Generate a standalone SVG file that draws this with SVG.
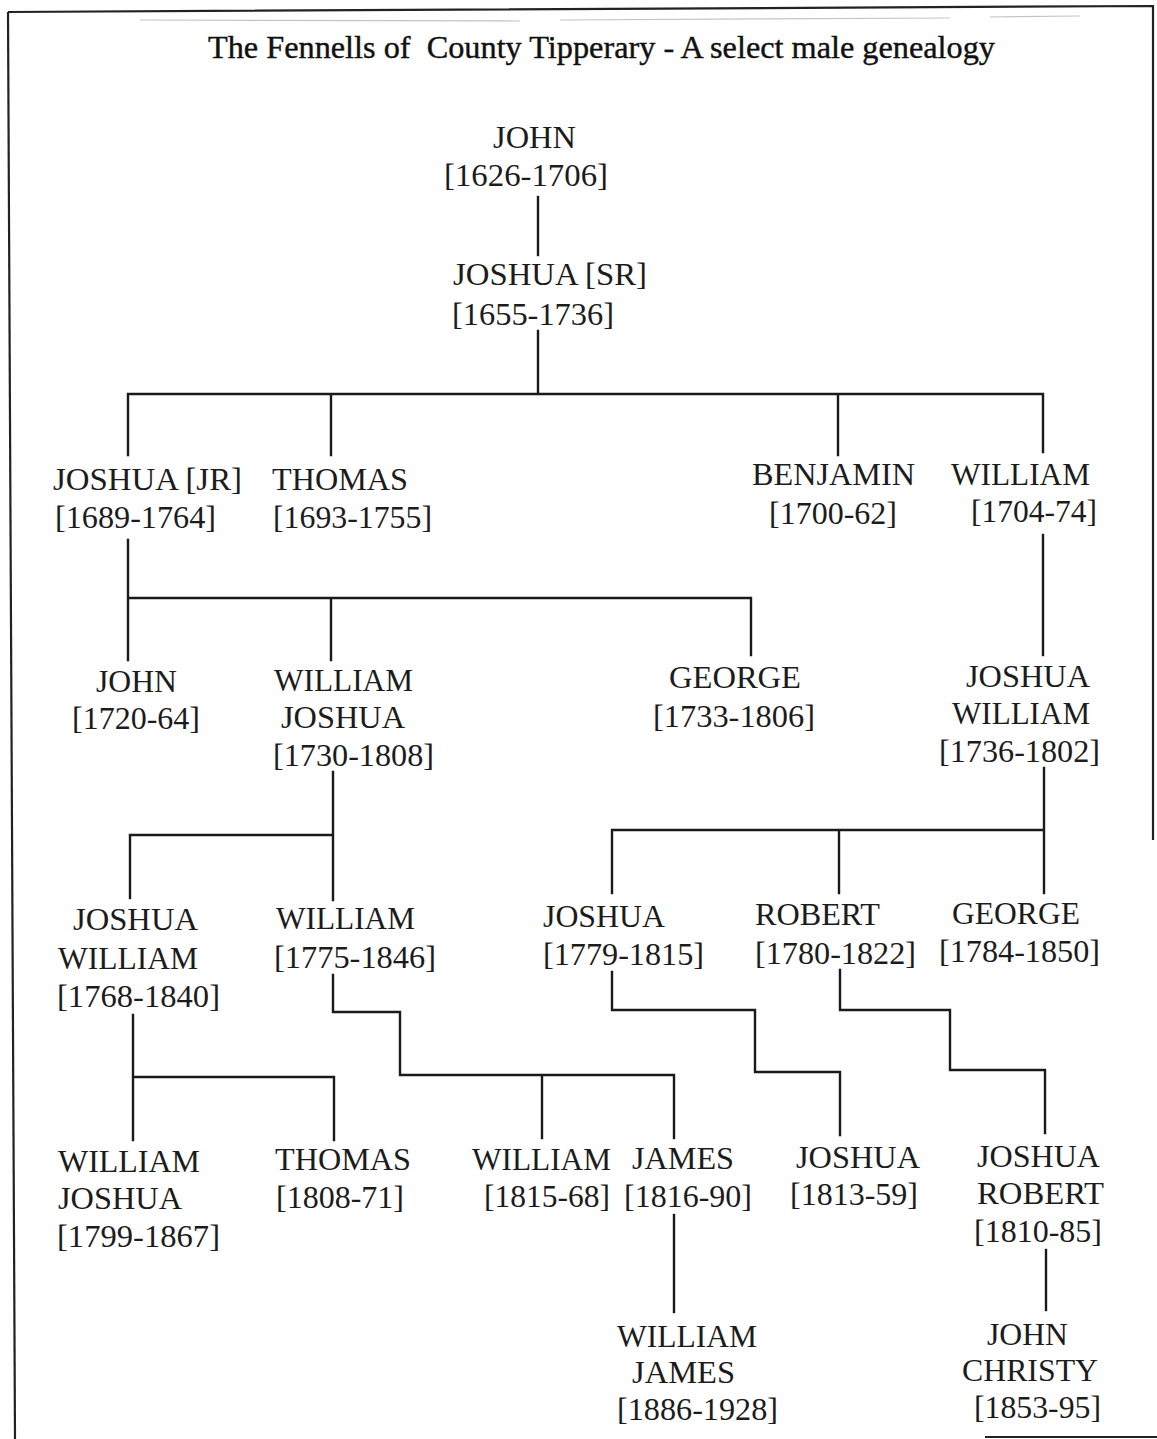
<svg xmlns="http://www.w3.org/2000/svg" width="1157" height="1439" viewBox="0 0 1157 1439">
<style>
text{font-family:"Liberation Serif","Times New Roman",serif;font-size:32px;fill:#1c1c1c}
.title{font-size:31px;fill:#111;stroke:#111;stroke-width:0.4}
.c{fill:none;stroke:#1a1a1a;stroke-width:2.4;stroke-linecap:square}
.frame{fill:none;stroke:#222;stroke-width:2.2}
.faint{fill:none;stroke:#c4c4c4;stroke-width:1.2}
</style>
<rect width="1157" height="1439" fill="#ffffff"/>
<g id="frame">
<path class="frame" d="M8,12 L1153,6 L1153,840"/>
<path class="frame" d="M8,12 L15,1439"/>
<path class="frame" d="M985,1437 L1157,1437"/>
<path class="faint" d="M140,20 L520,21 M560,20 L950,18 M990,17 L1080,16"/>
</g>
<g id="title"><text class="title" x="208" y="58" textLength="787" lengthAdjust="spacingAndGlyphs" xml:space="preserve">The Fennells of  County Tipperary - A select male genealogy</text></g>
<g id="connectors">
<path class="c" d="M538,197 V255"/>
<path class="c" d="M538,331 V394 M128,394 H1043 M128,394 V455 M331,394 V455 M838,394 V455 M1043,394 V452"/>
<path class="c" d="M128,540 V660 M128,598 H751 M331,598 V660 M751,598 V655"/>
<path class="c" d="M1043,535 V655"/>
<path class="c" d="M333,772 V900 M130,835 H333 M130,835 V898"/>
<path class="c" d="M1044,768 V893 M612,830 H1044 M612,830 V893 M839,830 V893"/>
<path class="c" d="M133,1015 V1140 M133,1077 H334 V1140"/>
<path class="c" d="M333,975 V1012 H400 V1075 H674 V1138 M542,1075 V1138"/>
<path class="c" d="M612,972 V1010 H755 V1072 H840 V1135"/>
<path class="c" d="M840,970 V1010 H950 V1070 H1045 V1133"/>
<path class="c" d="M674,1215 V1312"/>
<path class="c" d="M1046,1250 V1310"/>
</g>
<g id="n-john-1626"><text x="493" y="148" textLength="83" lengthAdjust="spacingAndGlyphs">JOHN</text><text x="444" y="186" textLength="164" lengthAdjust="spacingAndGlyphs">[1626-1706]</text></g>
<g id="n-joshua-sr"><text x="453" y="285" textLength="194" lengthAdjust="spacingAndGlyphs">JOSHUA [SR]</text><text x="452" y="325" textLength="162" lengthAdjust="spacingAndGlyphs">[1655-1736]</text></g>
<g id="n-joshua-jr"><text x="53" y="490" textLength="189" lengthAdjust="spacingAndGlyphs">JOSHUA [JR]</text><text x="55" y="528" textLength="161" lengthAdjust="spacingAndGlyphs">[1689-1764]</text></g>
<g id="n-thomas-1693"><text x="272" y="490" textLength="136" lengthAdjust="spacingAndGlyphs">THOMAS</text><text x="273" y="528" textLength="159" lengthAdjust="spacingAndGlyphs">[1693-1755]</text></g>
<g id="n-benjamin"><text x="752" y="485" textLength="163" lengthAdjust="spacingAndGlyphs">BENJAMIN</text><text x="769" y="524" textLength="128" lengthAdjust="spacingAndGlyphs">[1700-62]</text></g>
<g id="n-william-1704"><text x="951" y="485" textLength="139" lengthAdjust="spacingAndGlyphs">WILLIAM</text><text x="971" y="522" textLength="126" lengthAdjust="spacingAndGlyphs">[1704-74]</text></g>
<g id="n-john-1720"><text x="96" y="692" textLength="81" lengthAdjust="spacingAndGlyphs">JOHN</text><text x="72" y="729" textLength="128" lengthAdjust="spacingAndGlyphs">[1720-64]</text></g>
<g id="n-william-joshua-1730"><text x="274" y="691" textLength="139" lengthAdjust="spacingAndGlyphs">WILLIAM</text><text x="281" y="728" textLength="124" lengthAdjust="spacingAndGlyphs">JOSHUA</text><text x="273" y="766" textLength="161" lengthAdjust="spacingAndGlyphs">[1730-1808]</text></g>
<g id="n-george-1733"><text x="669" y="688" textLength="132" lengthAdjust="spacingAndGlyphs">GEORGE</text><text x="653" y="727" textLength="162" lengthAdjust="spacingAndGlyphs">[1733-1806]</text></g>
<g id="n-joshua-william-1736"><text x="966" y="687" textLength="124" lengthAdjust="spacingAndGlyphs">JOSHUA</text><text x="952" y="724" textLength="138" lengthAdjust="spacingAndGlyphs">WILLIAM</text><text x="939" y="762" textLength="161" lengthAdjust="spacingAndGlyphs">[1736-1802]</text></g>
<g id="n-joshua-william-1768"><text x="73" y="930" textLength="125" lengthAdjust="spacingAndGlyphs">JOSHUA</text><text x="58" y="969" textLength="140" lengthAdjust="spacingAndGlyphs">WILLIAM</text><text x="57" y="1007" textLength="163" lengthAdjust="spacingAndGlyphs">[1768-1840]</text></g>
<g id="n-william-1775"><text x="276" y="929" textLength="139" lengthAdjust="spacingAndGlyphs">WILLIAM</text><text x="274" y="968" textLength="162" lengthAdjust="spacingAndGlyphs">[1775-1846]</text></g>
<g id="n-joshua-1779"><text x="543" y="927" textLength="122" lengthAdjust="spacingAndGlyphs">JOSHUA</text><text x="543" y="965" textLength="161" lengthAdjust="spacingAndGlyphs">[1779-1815]</text></g>
<g id="n-robert-1780"><text x="755" y="925" textLength="125" lengthAdjust="spacingAndGlyphs">ROBERT</text><text x="755" y="964" textLength="161" lengthAdjust="spacingAndGlyphs">[1780-1822]</text></g>
<g id="n-george-1784"><text x="952" y="924" textLength="128" lengthAdjust="spacingAndGlyphs">GEORGE</text><text x="939" y="962" textLength="161" lengthAdjust="spacingAndGlyphs">[1784-1850]</text></g>
<g id="n-william-joshua-1799"><text x="58" y="1172" textLength="142" lengthAdjust="spacingAndGlyphs">WILLIAM</text><text x="58" y="1209" textLength="124" lengthAdjust="spacingAndGlyphs">JOSHUA</text><text x="57" y="1247" textLength="163" lengthAdjust="spacingAndGlyphs">[1799-1867]</text></g>
<g id="n-thomas-1808"><text x="275" y="1170" textLength="136" lengthAdjust="spacingAndGlyphs">THOMAS</text><text x="276" y="1208" textLength="128" lengthAdjust="spacingAndGlyphs">[1808-71]</text></g>
<g id="n-william-1815"><text x="472" y="1170" textLength="139" lengthAdjust="spacingAndGlyphs">WILLIAM</text><text x="484" y="1207" textLength="126" lengthAdjust="spacingAndGlyphs">[1815-68]</text></g>
<g id="n-james-1816"><text x="632" y="1169" textLength="102" lengthAdjust="spacingAndGlyphs">JAMES</text><text x="624" y="1207" textLength="128" lengthAdjust="spacingAndGlyphs">[1816-90]</text></g>
<g id="n-joshua-1813"><text x="796" y="1168" textLength="124" lengthAdjust="spacingAndGlyphs">JOSHUA</text><text x="790" y="1205" textLength="128" lengthAdjust="spacingAndGlyphs">[1813-59]</text></g>
<g id="n-joshua-robert-1810"><text x="977" y="1167" textLength="123" lengthAdjust="spacingAndGlyphs">JOSHUA</text><text x="977" y="1204" textLength="127" lengthAdjust="spacingAndGlyphs">ROBERT</text><text x="974" y="1242" textLength="128" lengthAdjust="spacingAndGlyphs">[1810-85]</text></g>
<g id="n-william-james-1886"><text x="617" y="1347" textLength="140" lengthAdjust="spacingAndGlyphs">WILLIAM</text><text x="632" y="1383" textLength="103" lengthAdjust="spacingAndGlyphs">JAMES</text><text x="617" y="1420" textLength="161" lengthAdjust="spacingAndGlyphs">[1886-1928]</text></g>
<g id="n-john-christy-1853"><text x="987" y="1345" textLength="81" lengthAdjust="spacingAndGlyphs">JOHN</text><text x="962" y="1381" textLength="136" lengthAdjust="spacingAndGlyphs">CHRISTY</text><text x="974" y="1418" textLength="127" lengthAdjust="spacingAndGlyphs">[1853-95]</text></g>
</svg>
